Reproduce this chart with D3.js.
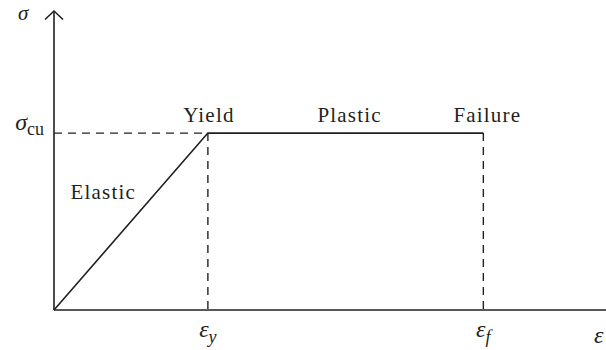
<!DOCTYPE html>
<html>
<head>
<meta charset="utf-8">
<script src="https://cdn.jsdelivr.net/npm/d3@7"></script>
<style>
  html, body { margin: 0; padding: 0; background: #fff; }
</style>
</head>
<body>
<svg id="chart" width="606" height="350"></svg>
<script>
// Idealised elastic–perfectly-plastic stress–strain law (normalised units)
const strain = [0, 1, 2.79];          // origin, yield strain, failure strain
const stress = [0, 1, 1];             // stress normalised by sigma_cu
const stageLabels = ["Elastic", "Yield", "Plastic", "Failure"];
const strainTicks = [
  { value: 1, base: "ε", sub: "y" },
  { value: 2.79, base: "ε", sub: "f" }
];
const stressTicks = [{ value: 1, base: "σ", sub: "cu" }];
const axisNames = { x: "ε", y: "σ" };

const ink = "#231f20";
const serif = "Liberation Serif, Times New Roman, serif";
const svg = d3.select("#chart");

const x = d3.scaleLinear().domain([0, 3.6]).range([54, 608]);
const y = d3.scaleLinear().domain([0, 1.69]).range([310, 11]);

const pts = strain.map((s, i) => [s, stress[i]]);
const yieldPt = pts[1], failPt = pts[2];

function label(px, py) {
  return svg.append("text")
    .attr("x", px).attr("y", py)
    .style("font-family", serif)
    .attr("fill", ink);
}

// dashed guide lines to the axes
const dash = "8,6";
svg.append("line")
  .attr("x1", x(0)).attr("x2", x(yieldPt[0]))
  .attr("y1", y(yieldPt[1])).attr("y2", y(yieldPt[1]))
  .attr("stroke", ink).attr("stroke-width", 1.4).attr("stroke-dasharray", dash);
[yieldPt, failPt].forEach(p => {
  svg.append("line")
    .attr("x1", x(p[0])).attr("x2", x(p[0]))
    .attr("y1", y(p[1])).attr("y2", y(0))
    .attr("stroke", ink).attr("stroke-width", 1.4).attr("stroke-dasharray", dash);
});

// axes
svg.append("line")
  .attr("x1", x(0)).attr("x2", x(3.6))
  .attr("y1", y(0)).attr("y2", y(0))
  .attr("stroke", ink).attr("stroke-width", 1.6);
svg.append("line")
  .attr("x1", x(0)).attr("x2", x(0))
  .attr("y1", y(0)).attr("y2", y(1.69))
  .attr("stroke", ink).attr("stroke-width", 1.6);
// open arrowhead on the stress axis
svg.append("path")
  .attr("d", `M${x(0) - 9},${y(1.69) + 8.5} L${x(0)},${y(1.69)} L${x(0) + 9},${y(1.69) + 8.5}`)
  .attr("fill", "none").attr("stroke", ink).attr("stroke-width", 1.6);

// stress–strain curve
svg.append("path")
  .datum(pts)
  .attr("d", d3.line().x(d => x(d[0])).y(d => y(d[1])))
  .attr("fill", "none").attr("stroke", ink).attr("stroke-width", 1.6);

// stage labels
function stage(text, cx, by) {
  label(cx, by)
    .attr("text-anchor", "middle")
    .attr("font-size", 21)
    .attr("letter-spacing", 1.2)
    .text(text);
}
stage(stageLabels[0], x(0.32), y(0.63));
stage(stageLabels[1], x(yieldPt[0]) + 1, y(yieldPt[1]) - 11);
stage(stageLabels[2], (x(yieldPt[0]) + x(failPt[0])) / 2 + 4, y(yieldPt[1]) - 11);
stage(stageLabels[3], x(failPt[0]) + 4, y(failPt[1]) - 11);

// strain tick labels
strainTicks.forEach(t => {
  const tx = label(x(t.value), y(0) + 27)
    .attr("text-anchor", "middle")
    .attr("font-size", 24).attr("font-style", "italic");
  tx.append("tspan").text(t.base);
  tx.append("tspan").attr("dy", 6).attr("font-size", 18).text(t.sub);
});

// stress tick label
stressTicks.forEach(t => {
  const tx = label(x(0) - 10, y(t.value) - 3)
    .attr("text-anchor", "end")
    .attr("font-size", 24);
  tx.append("tspan").attr("font-style", "italic").text(t.base);
  tx.append("tspan").attr("dy", 5).attr("font-size", 18).text(t.sub);
});

// axis names
label(18, 20)
  .attr("font-size", 21).attr("font-style", "italic")
  .text(axisNames.y);
label(594, 343)
  .attr("font-size", 24).attr("font-style", "italic")
  .text(axisNames.x);
</script>
</body>
</html>
